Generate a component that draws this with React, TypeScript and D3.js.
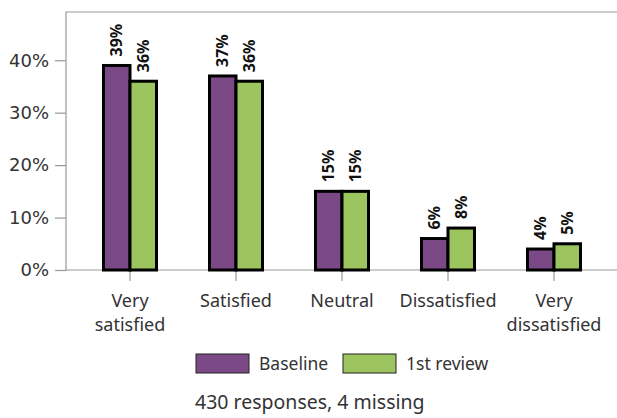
import React, { useEffect, useRef } from 'react';
import * as d3 from 'd3';

const categories = ['Very satisfied', 'Satisfied', 'Neutral', 'Dissatisfied', 'Very dissatisfied'];
const categoryLines = [['Very', 'satisfied'], ['Satisfied'], ['Neutral'], ['Dissatisfied'], ['Very', 'dissatisfied']];
const seriesNames = ['Baseline', '1st review'];
const baseline = [0.39, 0.37, 0.15, 0.06, 0.04];
const firstReview = [0.36, 0.36, 0.15, 0.08, 0.05];
const yTicks = [0, 0.1, 0.2, 0.3, 0.4];
const footnote = '430 responses, 4 missing';

const W = 617;
const H = 418;
const colors = ['#7b4a86', '#9cc560'];
const font = '"Noto Sans", sans-serif';

const App: React.FC = () => {
  const svgRef = useRef<SVGSVGElement>(null);

  useEffect(() => {
    const svg = d3.select(svgRef.current);
    svg.selectAll('*').remove();

    const left = 66;
    const top = 12;
    const bottom = 270;

    const x = d3.scaleBand<string>().domain(categories).range([77, 607]);
    const y = d3.scaleLinear().domain([0, 0.492]).range([bottom, top]);
    const barW = 26.5;

    // frame
    svg.append('path')
      .attr('d', `M${W},${top}H${left}V${bottom}H${W}`)
      .attr('fill', 'none')
      .attr('stroke', '#999')
      .attr('stroke-width', 1.2);

    // y axis
    const yAxis = d3.axisLeft(y).tickValues(yTicks).tickSize(11).tickPadding(6)
      .tickFormat((d) => d3.format('.0%')(d as number));
    const gy = svg.append('g').attr('transform', `translate(${left},0)`).call(yAxis);
    gy.select('.domain').remove();
    gy.selectAll('line').attr('stroke', '#999').attr('stroke-width', 1.2);
    gy.selectAll('text')
      .attr('fill', '#333')
      .style('font-family', '"DejaVu Sans", sans-serif')
      .style('font-size', '18px');

    // x ticks
    svg.append('g')
      .selectAll('line')
      .data(categories)
      .join('line')
      .attr('x1', (d) => x(d)! + x.bandwidth() / 2)
      .attr('x2', (d) => x(d)! + x.bandwidth() / 2)
      .attr('y1', bottom)
      .attr('y2', bottom + 11)
      .attr('stroke', '#999')
      .attr('stroke-width', 1.2);

    // category labels
    const cl = svg.append('g')
      .selectAll('text')
      .data(categories)
      .join('text')
      .attr('text-anchor', 'middle')
      .attr('fill', '#333')
      .style('font-family', font)
      .style('font-size', '18px')
      .attr('transform', (d) => `translate(${x(d)! + x.bandwidth() / 2},0)`);
    cl.each(function (d, i) {
      const lines = categoryLines[i];
      d3.select(this)
        .selectAll('tspan')
        .data(lines)
        .join('tspan')
        .attr('x', 0)
        .attr('y', (_, j) => (lines.length === 1 ? 307 : 307 + j * 24))
        .text((t) => t);
    });

    // bars
    const series = [baseline, firstReview];
    series.forEach((vals, s) => {
      const g = svg.append('g');
      const bx = (i: number) => x(categories[i])! + x.bandwidth() / 2 + (s === 0 ? -barW : 0);
      g.selectAll('rect')
        .data(vals)
        .join('rect')
        .attr('x', (_, i) => bx(i))
        .attr('y', (d) => y(d))
        .attr('width', barW)
        .attr('height', (d) => bottom - y(d))
        .attr('fill', colors[s])
        .attr('stroke', '#000')
        .attr('stroke-width', 3);
      g.selectAll('text')
        .data(vals)
        .join('text')
        .attr('transform', (d, i) => `translate(${bx(i) + barW / 2},${y(d) - 9}) rotate(-90)`)
        .attr('dy', '0.35em')
        .attr('fill', '#111')
        .style('font-family', font)
        .style('font-weight', 'bold')
        .style('font-size', '16px')
        .text((d) => d3.format('.0%')(d));
    });

    // legend
    const lx = [196, 343];
    const lg = svg.append('g')
      .selectAll('g')
      .data(seriesNames)
      .join('g')
      .attr('transform', (_, i) => `translate(${lx[i]},354)`);
    lg.append('rect')
      .attr('width', 53)
      .attr('height', 19)
      .attr('fill', (_, i) => colors[i])
      .attr('stroke', '#222')
      .attr('stroke-width', 1);
    lg.append('text')
      .attr('x', 63)
      .attr('y', 16)
      .attr('fill', '#333')
      .style('font-family', font)
      .style('font-size', '17.5px')
      .text((d) => d);

    svg.append('text')
      .attr('x', 195)
      .attr('y', 409)
      .attr('fill', '#333')
      .style('font-family', font)
      .style('font-size', '19.5px')
      .text(footnote);
  }, []);

  return (
    <svg
      ref={svgRef}
      width={W}
      height={H}
      style={{ position: 'absolute', left: 0, top: 0, background: '#fff' }}
    />
  );
};

export default App;
